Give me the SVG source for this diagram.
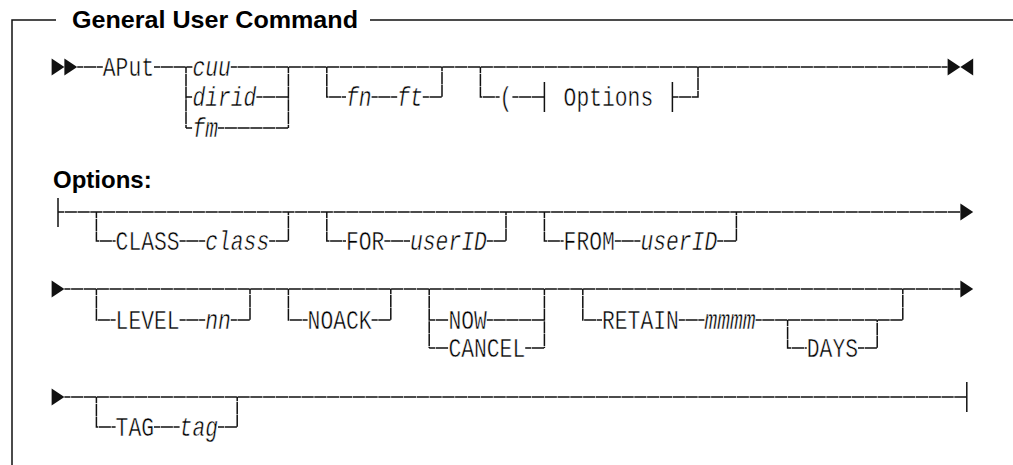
<svg xmlns="http://www.w3.org/2000/svg" width="1013" height="465" viewBox="0 0 1013 465">
  <style>
    .ln { fill: none; stroke: #111; stroke-width: 1.5; stroke-dasharray: 12.2 0.6; stroke-dashoffset: 6.1; }
    .fr { fill: none; stroke: #111; stroke-width: 1.5; }
    .ar { fill: #111; }
    .t { font-family: "Liberation Mono", "DejaVu Sans Mono", monospace; font-size: 28px; fill: #000; stroke: #fff; stroke-width: 0.5; }
    .i { font-style: italic; }
    .h { font-family: "Liberation Sans", Arial, sans-serif; font-weight: bold; font-size: 24px; fill: #000; }
  </style>

  <!-- frame and headings -->
  <g id="frame">
    <path class="fr" d="M12 465 V20 H56 M370 20 H1013"/>
    <text class="h" x="72" y="28" textLength="286" lengthAdjust="spacingAndGlyphs">General User Command</text>
    <text class="h" x="53" y="188">Options:</text>
  </g>

  <!-- all rails, branches and terminators -->
  <g id="connectors">
    <!-- row 1: APut -->
    <path class="ln" d="M77.2 67 H102.8 M154 67 H192.4 M230.8 67 H947.6
      M186 67 V128 M186 97 H192.4 M256.4 97 H288.4 M186 128 H192.4 M218 128 H288.4 M288.4 67 V128
      M326.8 67 V97 H346 M371.6 97 H397.2 M422.8 97 H442 V67
      M480.4 67 V97 H499.6 M512.4 97 H544.4 M672.4 97 H698 V67"/>
    <path class="fr" d="M544.4 82 V112 M672.4 82 V112"/>
    <polygon class="ar" points="51.6,58.5 64.4,67 51.6,75.5"/>
    <polygon class="ar" points="64.4,58.5 77.2,67 64.4,75.5"/>
    <polygon class="ar" points="947.6,58.5 960.4,67 947.6,75.5"/>
    <polygon class="ar" points="973.2,58.5 960.4,67 973.2,75.5"/>

    <!-- row 2: CLASS / FOR / FROM -->
    <path class="fr" d="M58 198 V227"/>
    <path class="ln" d="M58 212 H960.4
      M96.4 212 V241 H115.6 M179.6 241 H205.2 M269.2 241 H288.4 V212
      M326.8 212 V241 H346 M384.4 241 H410 M486.8 241 H506 V212
      M544.4 212 V241 H563.6 M614.8 241 H640.4 M717.2 241 H736.4 V212"/>
    <polygon class="ar" points="960.4,203.5 973.2,212 960.4,220.5"/>

    <!-- row 3: LEVEL / NOACK / NOW|CANCEL / RETAIN -->
    <path class="ln" d="M64.4 289 H960.4
      M96.4 289 V320 H115.6 M179.6 320 H205.2 M230.8 320 H250 V289
      M288.4 289 V320 H307.6 M371.6 320 H390.8 V289
      M429.2 289 V348 M429.2 320 H448.4 M486.8 320 H544.4 M429.2 348 H448.4 M525.2 348 H544.4 M544.4 289 V348
      M582.8 289 V320 H602 M678.8 320 H704.4 M755.6 320 H902.8 V289
      M787.6 320 V348 H806.8 M858 348 H877.2 V320"/>
    <polygon class="ar" points="51.6,280.5 64.4,289 51.6,297.5"/>
    <polygon class="ar" points="960.4,280.5 973.2,289 960.4,297.5"/>

    <!-- row 4: TAG -->
    <path class="ln" d="M64.4 397 H966.8
      M96.4 397 V427 H115.6 M154 427 H179.6 M218 427 H237.2 V397"/>
    <path class="fr" d="M966.8 382 V412"/>
    <polygon class="ar" points="51.6,388.5 64.4,397 51.6,405.5"/>
  </g>

  <!-- row 1 items -->
  <g id="n-aput"><text class="t" x="102.8" y="76" textLength="51.2" lengthAdjust="spacingAndGlyphs">APut</text></g>
  <g id="n-cuu"><text class="t i" x="192.4" y="76" textLength="38.4" lengthAdjust="spacingAndGlyphs">cuu</text></g>
  <g id="n-dirid"><text class="t i" x="192.4" y="106" textLength="64" lengthAdjust="spacingAndGlyphs">dirid</text></g>
  <g id="n-fm"><text class="t i" x="192.4" y="137" textLength="25.6" lengthAdjust="spacingAndGlyphs">fm</text></g>
  <g id="n-fn"><text class="t i" x="346" y="106" textLength="25.6" lengthAdjust="spacingAndGlyphs">fn</text></g>
  <g id="n-ft"><text class="t i" x="397.2" y="106" textLength="25.6" lengthAdjust="spacingAndGlyphs">ft</text></g>
  <g id="n-paren"><text class="t" x="499.6" y="106" textLength="12.8" lengthAdjust="spacingAndGlyphs">(</text></g>
  <g id="n-options-ref"><text class="t" x="563.6" y="106" textLength="89.6" lengthAdjust="spacingAndGlyphs">Options</text></g>

  <!-- row 2 items -->
  <g id="n-class"><text class="t" x="115.6" y="250" textLength="64" lengthAdjust="spacingAndGlyphs">CLASS</text><text class="t i" x="205.2" y="250" textLength="64" lengthAdjust="spacingAndGlyphs">class</text></g>
  <g id="n-for"><text class="t" x="346" y="250" textLength="38.4" lengthAdjust="spacingAndGlyphs">FOR</text><text class="t i" x="410" y="250" textLength="76.8" lengthAdjust="spacingAndGlyphs">userID</text></g>
  <g id="n-from"><text class="t" x="563.6" y="250" textLength="51.2" lengthAdjust="spacingAndGlyphs">FROM</text><text class="t i" x="640.4" y="250" textLength="76.8" lengthAdjust="spacingAndGlyphs">userID</text></g>

  <!-- row 3 items -->
  <g id="n-level"><text class="t" x="115.6" y="329" textLength="64" lengthAdjust="spacingAndGlyphs">LEVEL</text><text class="t i" x="205.2" y="329" textLength="25.6" lengthAdjust="spacingAndGlyphs">nn</text></g>
  <g id="n-noack"><text class="t" x="307.6" y="329" textLength="64" lengthAdjust="spacingAndGlyphs">NOACK</text></g>
  <g id="n-now"><text class="t" x="448.4" y="329" textLength="38.4" lengthAdjust="spacingAndGlyphs">NOW</text></g>
  <g id="n-cancel"><text class="t" x="448.4" y="357" textLength="76.8" lengthAdjust="spacingAndGlyphs">CANCEL</text></g>
  <g id="n-retain"><text class="t" x="602" y="329" textLength="76.8" lengthAdjust="spacingAndGlyphs">RETAIN</text><text class="t i" x="704.4" y="329" textLength="51.2" lengthAdjust="spacingAndGlyphs">mmmm</text></g>
  <g id="n-days"><text class="t" x="806.8" y="357" textLength="51.2" lengthAdjust="spacingAndGlyphs">DAYS</text></g>

  <!-- row 4 items -->
  <g id="n-tag"><text class="t" x="115.6" y="436" textLength="38.4" lengthAdjust="spacingAndGlyphs">TAG</text><text class="t i" x="179.6" y="436" textLength="38.4" lengthAdjust="spacingAndGlyphs">tag</text></g>
</svg>
